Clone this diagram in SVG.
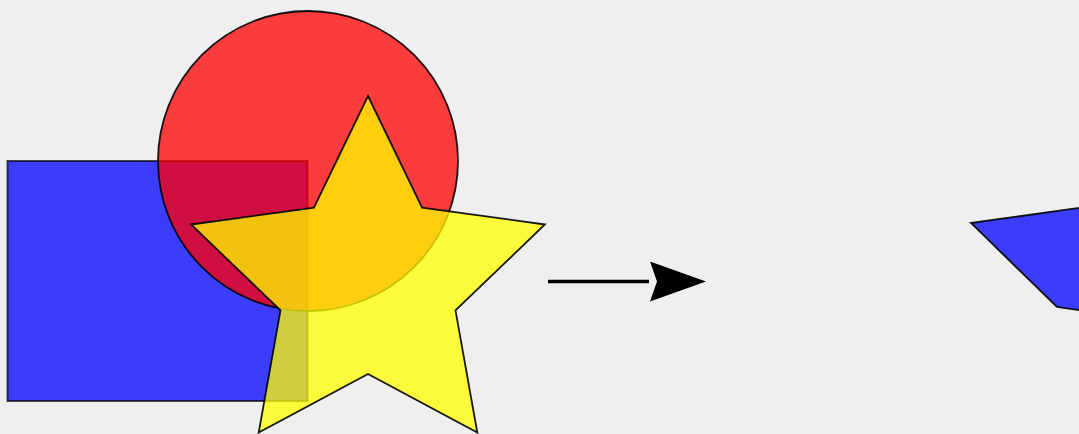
<svg xmlns="http://www.w3.org/2000/svg" width="1079" height="434" viewBox="0 0 1079 434">
  <style>
    .shape { stroke: #000; stroke-width: 1.8; fill-opacity: 0.75; stroke-opacity: 0.9; stroke-linejoin: miter; }
    .rectshape { stroke-opacity: 0.7; stroke-width: 2; }
    .blue { fill: #0000ff; }
    .red { fill: #ff0000; }
    .yellow { fill: #ffff00; }
    .conn { stroke: #000; stroke-width: 3.5; fill: none; }
  </style>
  <defs>
    <marker id="arrowhead" markerUnits="userSpaceOnUse" markerWidth="60" markerHeight="44" refX="0" refY="20" orient="auto">
      <path d="M1,0 L57,20 L1,40 L8,20 Z" fill="#000"/>
    </marker>
  </defs>
  <rect width="1079" height="434" fill="#efefef"/>
  <g id="rectangle">
    <rect class="shape rectshape blue" x="7.5" y="161" width="300" height="240"/>
  </g>
  <g id="circle">
    <circle class="shape red" cx="308" cy="161" r="150"/>
  </g>
  <g id="star">
    <polygon class="shape yellow" points="368,96 422.1,207.6 544.9,224.5 455.5,310.4 477.3,432.5 368,374 258.7,432.5 280.5,310.4 191.1,224.5 313.9,207.6"/>
  </g>
  <g id="right-shape">
    <polygon class="shape blue" points="971,223 1100,205 1100,313 1057,307"/>
  </g>
  <g id="connectors">
    <line class="conn" x1="548" y1="281.5" x2="649" y2="281.5" marker-end="url(#arrowhead)"/>
  </g>
</svg>
